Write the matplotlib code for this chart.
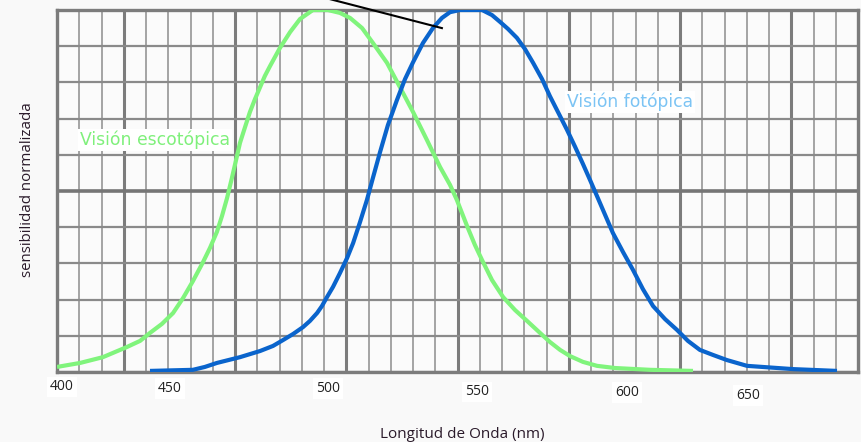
import numpy as np
import matplotlib
matplotlib.use('Agg')
import matplotlib.pyplot as plt

# curvas (longitud de onda en nm, sensibilidad normalizada)
esc_nm = [410.0, 417.7, 425.3, 433.3, 437.7, 441.0, 445.0, 448.7, 452.0, 455.3,
          458.7, 461.0, 463.3, 465.0, 466.7, 468.3, 469.7, 471.0, 472.7, 474.3,
          476.0, 477.7, 479.3, 481.0, 484.3, 487.7, 491.0, 495.3, 500.3, 504.3,
          507.7, 511.7, 515.3, 520.0, 524.3, 528.7, 533.3, 537.7, 541.0, 543.3,
          546.7, 549.3, 551.7, 555.0, 558.7, 562.7, 566.7, 571.0, 574.3, 577.7,
          581.0, 585.3, 590.0, 596.0, 607.7, 622.0]
esc_val = [0.014, 0.025, 0.041, 0.069, 0.086, 0.108, 0.133, 0.163, 0.204, 0.251,
           0.304, 0.343, 0.387, 0.431, 0.481, 0.536, 0.586, 0.633, 0.677, 0.718,
           0.754, 0.787, 0.818, 0.845, 0.895, 0.939, 0.975, 1.0, 1.0, 0.992,
           0.978, 0.950, 0.909, 0.854, 0.787, 0.718, 0.641, 0.566, 0.517, 0.475,
           0.403, 0.351, 0.309, 0.254, 0.207, 0.171, 0.141, 0.108, 0.083, 0.061,
           0.044, 0.028, 0.017, 0.011, 0.006, 0.003]

fot_nm = [441.0, 455.3, 459.3, 463.3, 471.0, 477.7, 482.0, 485.3, 488.7, 492.0,
          494.3, 496.7, 498.3, 500.0, 502.0, 504.3, 506.7, 508.7, 511.0, 513.3,
          515.3, 517.7, 520.3, 523.3, 526.0, 528.7, 532.0, 535.3, 538.3, 541.0,
          544.3, 551.7, 555.0, 557.7, 560.3, 563.3, 566.0, 568.7, 571.7, 574.3,
          577.0, 580.0, 582.7, 585.3, 587.7, 590.0, 592.7, 595.3, 598.7, 602.0,
          605.3, 608.7, 612.7, 616.7, 620.3, 624.3, 628.7, 633.3, 640.0, 655.3,
          670.0]
fot_val = [0.003, 0.006, 0.014, 0.025, 0.041, 0.058, 0.072, 0.088, 0.105, 0.124,
           0.141, 0.163, 0.182, 0.207, 0.235, 0.273, 0.315, 0.356, 0.414, 0.475,
           0.536, 0.608, 0.682, 0.751, 0.809, 0.856, 0.909, 0.950, 0.978, 0.994,
           1.0, 1.0, 0.986, 0.967, 0.948, 0.923, 0.892, 0.854, 0.809, 0.762,
           0.718, 0.669, 0.622, 0.575, 0.530, 0.486, 0.434, 0.384, 0.331, 0.282,
           0.229, 0.182, 0.146, 0.116, 0.086, 0.061, 0.047, 0.033, 0.017, 0.008,
           0.003]

tick_labels = ['400', '450', '500', '550', '600', '650']
tick_pos = [411.7, 447.7, 500.3, 550.0, 600.0, 640.3]   # donde aparecen en la imagen

x0, x1 = 410.0, 677.0
W, H = 862, 442

fig = plt.figure(figsize=(W / 100, H / 100), dpi=100, facecolor='#f9f9f9')
ax = fig.add_axes([57 / W, (H - 372) / H, 801 / W, 362 / H])
ax.set_facecolor('#fbfbfb')
ax.set_xlim(x0, x1)
ax.set_ylim(0, 1)

# papel cuadriculado
step = (x1 - x0) / 36
for i in range(37):
    xv = x0 + i * step
    if i % 5 == 3:
        ax.axvline(xv, color='#7c7c7c', lw=2.2, zorder=1)
    else:
        ax.axvline(xv, color='#a4a4a4', lw=1.4, zorder=1)
for j in range(11):
    if j == 5:
        ax.axhline(j / 10, color='#767676', lw=2.6, zorder=1)
    else:
        ax.axhline(j / 10, color='#8a8a8a', lw=1.6, zorder=1)
for s in ax.spines.values():
    s.set_color('#7c7c7c')
    s.set_linewidth(2.4)

ax.plot(esc_nm, esc_val, color='#80f47c', lw=3, solid_joinstyle='round',
        solid_capstyle='butt', zorder=3)
ax.plot(fot_nm, fot_val, color='#0a64cc', lw=3, solid_joinstyle='round',
        solid_capstyle='butt', zorder=4)

# indicador negro
ax.plot([501.0, 538.3], [1.03, 0.95], color='black', lw=1.5, clip_on=False, zorder=5)

ax.text(417.7, 0.641, 'Visión escotópica', color='#80f07c', fontsize=12.4,
        va='center', ha='left', zorder=6,
        bbox=dict(facecolor='white', edgecolor='none', pad=1.5))
ax.text(580.0, 0.746, 'Visión fotópica', color='#7cc4f4', fontsize=12.3,
        va='center', ha='left', zorder=6,
        bbox=dict(facecolor='white', edgecolor='none', pad=1.5))

ax.set_yticks([])
ax.set_xticks(tick_pos)
ax.set_xticklabels(tick_labels, fontsize=10, family='Open Sans', color='#222222')
ax.tick_params(axis='x', length=0)
pads = [5.3, 6.5, 6.5, 8.9, 9.4, 11.7]
for t, p in zip(ax.xaxis.get_major_ticks(), pads):
    t.set_pad(p)
    t.label1.set_bbox(dict(facecolor='white', edgecolor='none', pad=2))

fig.text(462 / W, 1 - 435 / H, 'Longitud de Onda (nm)', ha='center', va='center',
         fontsize=11, family='Open Sans', color='#2a1a2a')
fig.text(28 / W, 1 - 190 / H, 'sensibilidad normalizada', ha='center', va='center',
         rotation=90, fontsize=10.8, family='Open Sans', color='#2a1a2a')

fig.savefig('out.png', dpi=100, facecolor=fig.get_facecolor())
